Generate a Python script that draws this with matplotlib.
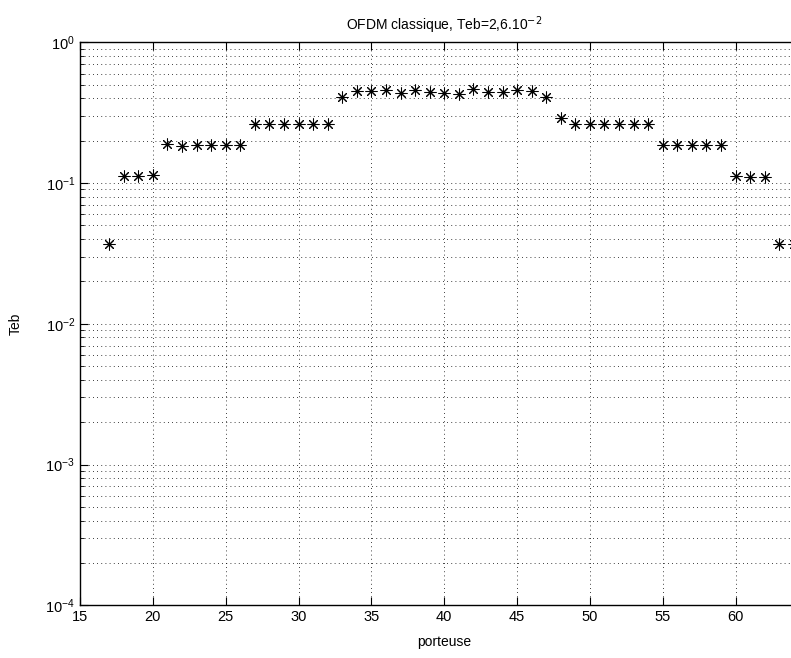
import matplotlib.pyplot as plt
from matplotlib.ticker import LogLocator, NullFormatter

plt.rcParams['font.family'] = ['Liberation Sans', 'DejaVu Sans']

# données
porteuse = list(range(17, 65))
teb = [0.037, 0.112, 0.112, 0.115,
       0.190, 0.184, 0.185, 0.187, 0.185, 0.186,
       0.261, 0.262, 0.264, 0.261, 0.264, 0.262,
       0.410, 0.449, 0.452, 0.461, 0.437, 0.461, 0.440, 0.437, 0.432,
       0.469, 0.445, 0.440, 0.455, 0.452, 0.408,
       0.288, 0.262, 0.262, 0.264, 0.264, 0.264, 0.264,
       0.185, 0.185, 0.185, 0.185, 0.185,
       0.112, 0.111, 0.111,
       0.037, 0.037]

fig = plt.figure(figsize=(7.91, 6.58), dpi=100)
ax = fig.add_axes([0.1011, 0.0801, 0.921, 0.8556])

# astérisque à 8 branches comme le '*' de matlab
ax.semilogy(porteuse, teb, linestyle='none', marker=(8, 2, 0), color='black',
            markersize=8.5, markeredgewidth=0.75)

ax.set_xlim(15, 65)
ax.set_ylim(1e-4, 1)
ax.set_xticks(range(15, 65, 5))
ax.yaxis.set_major_locator(LogLocator(base=10, numticks=10))
ax.yaxis.set_minor_locator(LogLocator(base=10, subs=range(2, 10), numticks=20))
ax.yaxis.set_minor_formatter(NullFormatter())

# grille pointillée façon matlab
ax.grid(True, which='major', axis='both', linestyle=(0, (1, 4)), color='black', linewidth=0.6)
ax.grid(True, which='minor', axis='y', linestyle=(0, (1, 4)), color='black', linewidth=0.6)

ax.tick_params(which='both', direction='in', top=True, right=True, labelsize=10.5)
ax.tick_params(which='major', length=6)
ax.tick_params(which='minor', length=3)
for s in ax.spines.values():
    s.set_linewidth(1.0)

ax.set_title('OFDM classique, Teb=2,6.10$^{-2}$', fontsize=10, pad=9)
ax.set_xlabel('porteuse', fontsize=10, labelpad=8)
ax.set_ylabel('Teb', fontsize=10, labelpad=16)

plt.savefig('out.png', dpi=100)
